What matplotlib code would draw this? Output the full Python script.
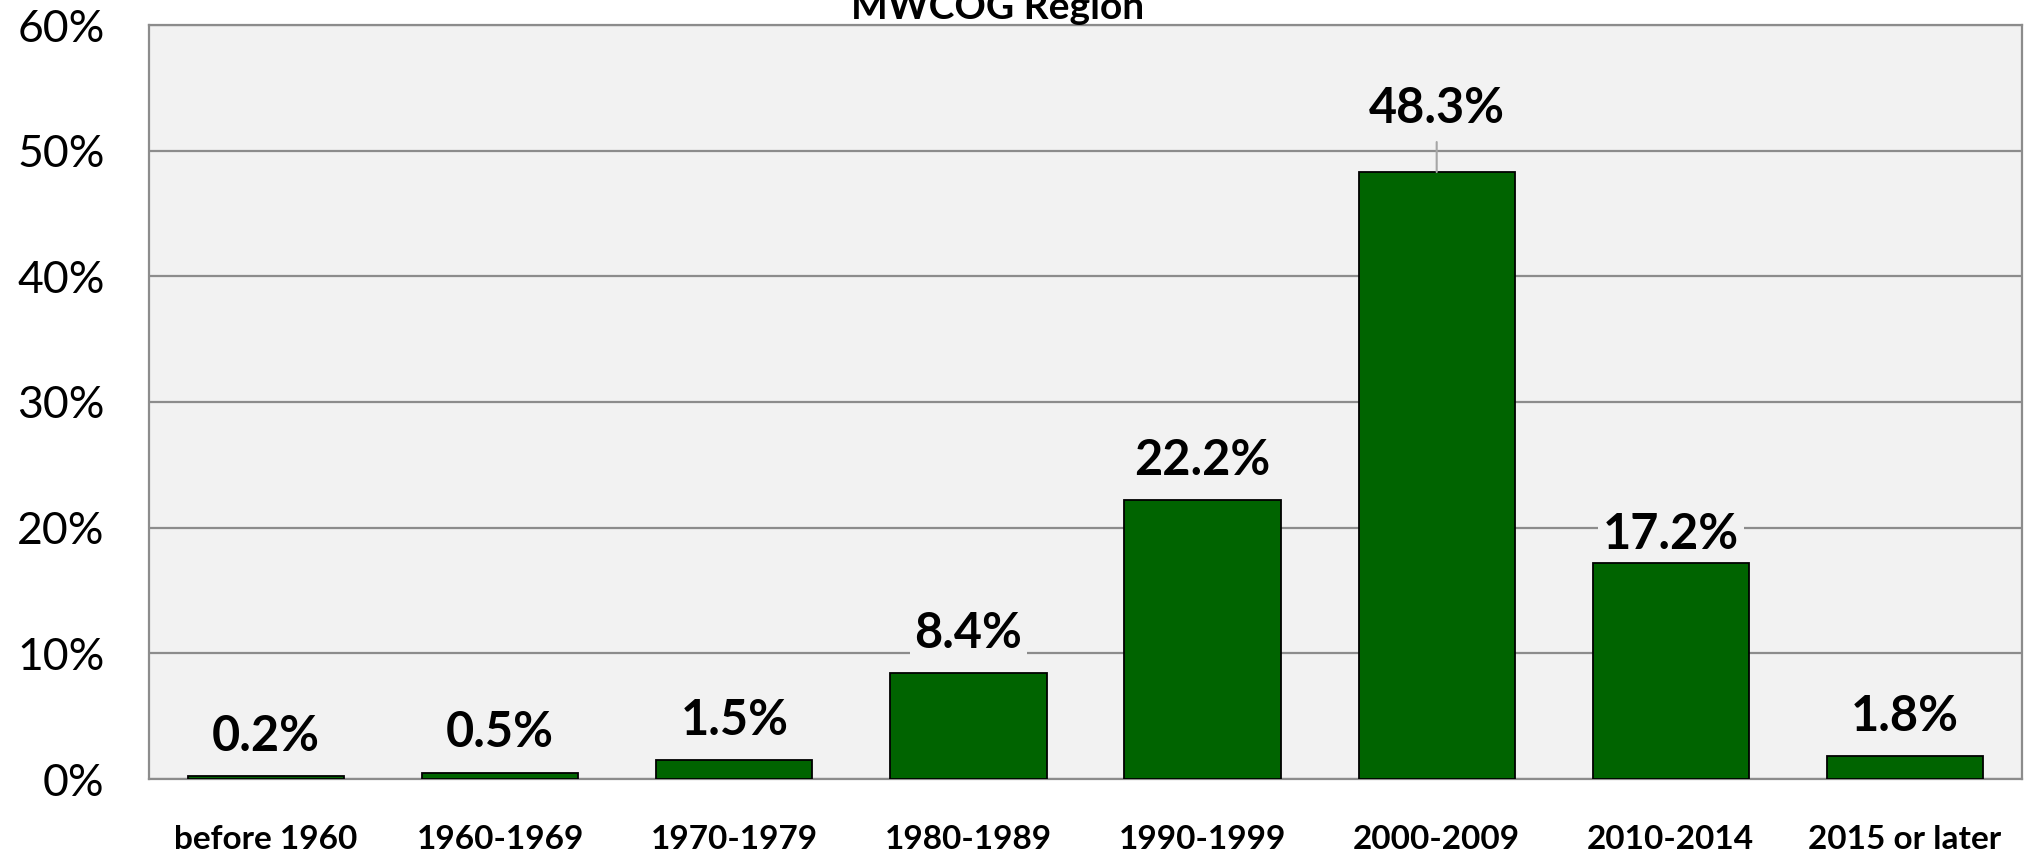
import matplotlib
matplotlib.use("Agg")
import matplotlib.pyplot as plt
from matplotlib.ticker import FuncFormatter

categories = ["before 1960", "1960-1969", "1970-1979", "1980-1989",
              "1990-1999", "2000-2009", "2010-2014", "2015 or later"]
values = [0.2, 0.5, 1.5, 8.4, 22.2, 48.3, 17.2, 1.8]
labels = ["0.2%", "0.5%", "1.5%", "8.4%", "22.2%", "48.3%", "17.2%", "1.8%"]
title = "MWCOG Region"

plt.rcParams['font.family'] = ['Lato', 'DejaVu Sans']

W, H = 2037, 858
fig = plt.figure(figsize=(W / 100, H / 100), dpi=100)
left, right, top, bottom = 149, 2022, 25, 779
ax = fig.add_axes([left / W, 1 - bottom / H, (right - left) / W, (bottom - top) / H])
ax.set_facecolor("#f2f2f2")

x = list(range(len(categories)))
bars = ax.bar(x, values, width=0.667, color="#006400", edgecolor="black", linewidth=1.3, zorder=3)
ax.set_xlim(-0.5, len(categories) - 0.5)
ax.set_ylim(0, 60)
ax.set_yticks(range(0, 61, 10))
ax.yaxis.set_major_formatter(FuncFormatter(lambda v, p: f"{int(v)}%"))
ax.grid(axis="y", color="#8c8c8c", linewidth=1.6, zorder=0)
ax.set_axisbelow(True)
for s in ax.spines.values():
    s.set_color("#8c8c8c")
    s.set_linewidth(1.6)
ax.tick_params(axis="both", length=0)
ax.tick_params(axis="y", labelsize=32, pad=32)
ax.tick_params(axis="x", labelsize=24, pad=33)
ax.set_xticks(x)
ax.set_xticklabels(categories, fontweight="bold")

offsets = [40, 40, 40, 40, 40, 64, 28, 40]
for xi, v, lab, off in zip(x, values, labels, offsets):
    ax.annotate(lab, xy=(xi, v), xytext=(0, off), textcoords="offset pixels",
                ha="center", va="center", fontsize=35, fontweight="bold", zorder=5,
                bbox=dict(boxstyle="square,pad=0.1", facecolor="#f2f2f2", edgecolor="none"))
    if off > 50:
        ax.annotate("", xy=(xi, v), xytext=(0, off - 34), textcoords="offset pixels",
                    arrowprops=dict(arrowstyle="-", color="#a6a6a6", lw=1.5,
                                    shrinkA=0, shrinkB=0), zorder=4)

fig.text(998 / W, 1 - 19 / H, title, ha="center", va="baseline",
         fontsize=28, fontweight="bold")

fig.savefig("out.png", dpi=100)
